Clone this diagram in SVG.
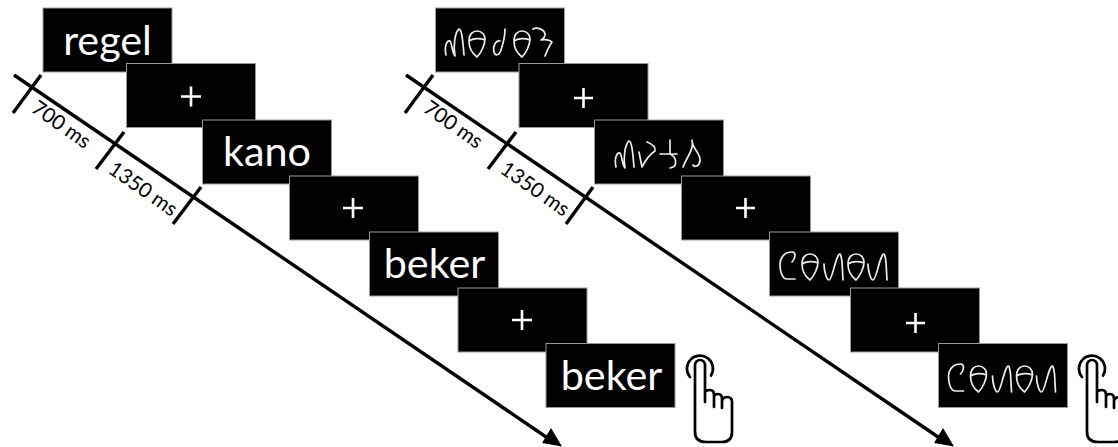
<svg xmlns="http://www.w3.org/2000/svg" width="1118" height="447" viewBox="0 0 1118 447">
<style>
.b{fill:#000;stroke:#999;stroke-width:1}
.w{font-family:Lato,"Open Sans",sans-serif;font-size:41.300px;fill:#fff;text-anchor:middle}
.c{stroke:#fff;stroke-width:2.600;fill:none}
.t{font-family:Lato,"Open Sans",sans-serif;font-size:20.500px;fill:#000}
.ax{stroke:#000;stroke-width:3.400;fill:none}
.g{stroke:#eee;stroke-width:1.700;fill:none;stroke-linecap:round;stroke-linejoin:round}
.h{stroke:#000;stroke-width:2.700;fill:none;stroke-linecap:round}
</style>
<defs>
<path id="ga" d="M1,27C-1,18 2,12 5,13C7,15 7,25 10,28C8,18 10,4 14,1C17,1 18,15 19,27"/>
<path id="gb" d="M1,11C1,4 5,1 9,1C14,1 17,5 17,9C17,15 13,23 9,27C5,24 1,18 1,11C5,8 12,8 17,10"/>
<path id="gc" d="M12,1C12,8 10,16 8,22C6,28 2,28 1,24C-0.500,18 3,12 7,13"/>
<path id="gd" d="M1,1C5,-1 12,1 13,6C13,9 11,11 9,12C13,11 18,12 20,14C17,18 15,23 13,28"/>
<path id="ge" d="M0,12C0,20 3,28 5,28C8,28 10,12 14,4C16,0 17,2 18,10L19,28"/>
<path id="gf" d="M0,14H17M10,0V14C17,17 18,27 10,28"/>
<path id="gg" d="M0,28C3,20 8,14 9,8C10,4 9,2 9,1C9,10 18,14 17,22C16,28 11,28 10,26"/>
<path id="gi" d="M1,13L4,28C8,20 14,14 17,12C18,8 14,5 9,3"/>
<path id="gh" d="M15,27H7C2,27 0,19 0,13C0,6 4,0 12,0C16,0 16,6 12,10"/>
<path id="hand" d="M-11,16A13,13 0 1 1 10,14.500M4,4V41M-6,4A5,5 0 0 1 4,4M4,32Q4,29 9,29Q13,29 13,34V46M13,36Q13,33 17,33Q21,33 21,38V47M21,40Q22,36 26,36Q31,36 31,41V71Q31,81 21,81H5Q-6,81 -6,71V4"/>
</defs>

<g id="connectors">
<path class="ax" d="M14,75L552,441M13,113L41,75M96,169L124,132M173,224L201,187"/>
<polygon points="562,446.500 542,443 551,428"/>
<path class="ax" d="M406,75L944,441M405,113L433,75M488,169L516,132M566,224L593,187"/>
<polygon points="954,446.500 934,443 943,428"/>
</g>

<g id="label-700-left"><text class="t" transform="translate(30,111) rotate(35)">700 ms</text></g>
<g id="label-1350-left"><text class="t" transform="translate(107,172) rotate(35)">1350 ms</text></g>
<g id="label-700-right"><text class="t" transform="translate(422,111) rotate(35)">700 ms</text></g>
<g id="label-1350-right"><text class="t" transform="translate(499,172) rotate(35)">1350 ms</text></g>

<g id="n1"><rect class="b" x="43" y="8" width="129" height="64"/><text class="w" x="107.500" y="55">regel</text></g>
<g id="n2"><rect class="b" x="126.500" y="63.500" width="129" height="64"/><path class="c" d="M181,96.500H201M191,86.500V106.500"/></g>
<g id="n3"><rect class="b" x="202.500" y="120" width="129" height="64"/><text class="w" x="267" y="166">kano</text></g>
<g id="n4"><rect class="b" x="289.500" y="176" width="129" height="64"/><path class="c" d="M343,208H363M353,198V218"/></g>
<g id="n5"><rect class="b" x="369.500" y="232" width="129" height="64"/><text class="w" x="434.500" y="278">beker</text></g>
<g id="n6"><rect class="b" x="458" y="288" width="129" height="64"/><path class="c" d="M512,320H532M522,310V330"/></g>
<g id="n7"><rect class="b" x="546" y="343.500" width="129" height="64"/><text class="w" x="611.500" y="390">beker</text></g>
<g id="hand-left"><use href="#hand" class="h" x="701" y="361"/></g>

<g id="n8"><rect class="b" x="435.500" y="8" width="129" height="64"/>
<g class="g"><use href="#ga" x="445" y="28"/><use href="#gb" x="468" y="30"/><use href="#gc" x="493" y="28"/><use href="#gb" x="513" y="30"/><use href="#gd" x="532" y="28"/></g></g>
<g id="n9"><rect class="b" x="519" y="63.500" width="129" height="64"/><path class="c" d="M574,98H593M583.500,88V108"/></g>
<g id="n10"><rect class="b" x="594.500" y="120" width="129" height="64"/>
<g class="g"><use href="#ga" x="615" y="140"/><use href="#gi" x="638" y="139"/><use href="#gf" x="660" y="140"/><use href="#gg" x="683" y="139"/></g></g>
<g id="n11"><rect class="b" x="681.500" y="176" width="129" height="64"/><path class="c" d="M736,208H755M745.500,198V218"/></g>
<g id="n12"><rect class="b" x="769.500" y="232" width="129" height="64"/>
<g class="g"><use href="#gh" x="780" y="252"/><use href="#gb" x="801" y="253"/><use href="#ge" x="824" y="252"/><use href="#gb" x="847" y="253"/><use href="#ge" x="868" y="252"/></g></g>
<g id="n13"><rect class="b" x="850.500" y="288" width="129" height="64"/><path class="c" d="M906,323H925M915.500,313V333"/></g>
<g id="n14"><rect class="b" x="938.500" y="343.500" width="129" height="64"/>
<g class="g"><use href="#gh" x="948.500" y="364"/><use href="#gb" x="969.500" y="365"/><use href="#ge" x="992.500" y="364"/><use href="#gb" x="1015.500" y="365"/><use href="#ge" x="1036.500" y="364"/></g></g>
<g id="hand-right"><use href="#hand" class="h" x="1093" y="361"/></g>
</svg>
